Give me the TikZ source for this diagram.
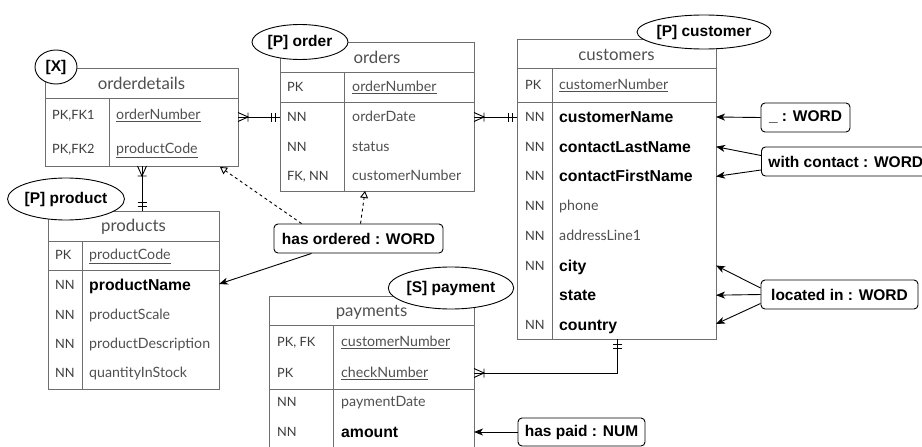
\documentclass[tikz,border=0pt]{standalone}
\usepackage{fontspec}
\setmainfont{Liberation Sans}
\newfontfamily\lato{Lato}
\usetikzlibrary{shapes.geometric,arrows.meta}
\definecolor{tblgray}{HTML}{6E6E6E}
\definecolor{txtgray}{HTML}{505050}
\definecolor{keygray}{HTML}{3C3C3C}
\tikzset{
  tbl/.style={draw=tblgray, line width=0.9pt},
  hdr/.style={inner sep=0, text height=11pt, text depth=0pt, font=\lato\fontsize{16.8}{19}\selectfont, text=txtgray},
  keytxt/.style={anchor=west, inner sep=0, text height=9pt, text depth=0pt, font=\lato\fontsize{12.8}{15}\selectfont, text=keygray},
  fldtxt/.style={anchor=west, inner sep=0, text height=9.5pt, text depth=0pt, font=\lato\fontsize{14.2}{16}\selectfont, text=txtgray},
  boldtxt/.style={anchor=west, inner sep=0, text height=11pt, text depth=0pt, font=\bfseries\fontsize{15.8}{18}\selectfont, text=black},
  tag/.style={ellipse, draw, fill=white, line width=0.9pt, inner sep=0, font=\bfseries\fontsize{15.5}{18}\selectfont},
  lbl/.style={draw, fill=white, rounded corners=4pt, line width=0.9pt, inner sep=0, minimum height=29pt, font=\bfseries\fontsize{15.5}{18}\selectfont},
  conn/.style={draw=black, line width=0.9pt},
  arr/.style={conn, -{Stealth[length=9pt,width=7pt,inset=2.5pt]}},
  dsh/.style={conn, dash pattern=on 3pt off 3pt, -{Triangle[fill=white,length=7pt,width=8pt]}},
  crow/.pic={\draw[conn] (0,-4.5) -- (10,0) -- (0,4.5) (10,-4.5) -- (10,4.5);},
  onebar/.pic={\draw[conn] (5,-4.5) -- (5,4.5) (9,-4.5) -- (9,4.5);}
}
\begin{document}
\begin{tikzpicture}[x=1pt,y=-1pt]
\useasboundingbox (0,0) rectangle (922,447);
\fill[white] (0,0) rectangle (922,447);

% ---------- orderdetails ----------
\draw[tbl] (45,68) rectangle (238,166);
\draw[tbl] (45,98) -- (238,98) (109,98) -- (109,166);
\node[hdr] (od-h) at (141.5,84) {orderdetails};
\node[keytxt] (od-k1) at (52,115) {PK,FK1};
\node[fldtxt] (od-f1) at (116,115) {\underline{orderNumber}};
\node[keytxt] (od-k2) at (52,149) {PK,FK2};
\node[fldtxt] (od-f2) at (116,149) {\underline{productCode}};
\coordinate (od-r) at (238,117);
\coordinate (od-b) at (142,166);
\coordinate (od-d) at (220,167);

% ---------- orders ----------
\draw[tbl] (280,42) rectangle (474,191);
\draw[tbl] (280,72) -- (474,72) (280,102) -- (474,102) (344,72) -- (344,191);
\node[hdr] (or-h) at (377,58) {orders};
\node[keytxt] (or-k1) at (287,87) {PK};
\node[fldtxt] (or-f1) at (352,87) {\underline{orderNumber}};
\node[keytxt] (or-k2) at (287,117) {NN};
\node[fldtxt] (or-f2) at (352,117) {orderDate};
\node[keytxt] (or-k3) at (287,146.5) {NN};
\node[fldtxt] (or-f3) at (352,146.5) {status};
\node[keytxt] (or-k4) at (287,176) {FK, NN};
\node[fldtxt] (or-f4) at (352,176) {customerNumber};
\coordinate (or-l) at (280,117);
\coordinate (or-r) at (474,117);
\coordinate (or-b) at (365,191);

% ---------- customers ----------
\draw[tbl] (517,39) rectangle (716,339);
\draw[tbl] (517,68) -- (716,68) (517,102) -- (716,102) (552,68) -- (552,339);
\node[hdr] (cu-h) at (616.5,55) {customers};
\node[keytxt] (cu-k1) at (525,85) {PK};
\node[fldtxt] (cu-f1) at (559,85) {\underline{customerNumber}};
\node[keytxt] (cu-k2) at (525,117) {NN};
\node[boldtxt] (cu-f2) at (559,117) {customerName};
\node[keytxt] (cu-k3) at (525,146.7) {NN};
\node[boldtxt] (cu-f3) at (559,146.7) {contactLastName};
\node[keytxt] (cu-k4) at (525,176.4) {NN};
\node[boldtxt] (cu-f4) at (559,176.4) {contactFirstName};
\node[keytxt] (cu-k5) at (525,206) {NN};
\node[fldtxt] (cu-f5) at (559,206) {phone};
\node[keytxt] (cu-k6) at (525,235.8) {NN};
\node[fldtxt] (cu-f6) at (559,235.8) {addressLine1};
\node[keytxt] (cu-k7) at (525,265.5) {NN};
\node[boldtxt] (cu-f7) at (559,265.5) {city};
\node[boldtxt] (cu-f8) at (559,295.2) {state};
\node[keytxt] (cu-k9) at (525,325) {NN};
\node[boldtxt] (cu-f9) at (559,325) {country};
\coordinate (cu-l) at (517,117);
\coordinate (cu-b) at (617,339);
\coordinate (cu-r2) at (716,117);
\coordinate (cu-r3) at (716,146.7);
\coordinate (cu-r4) at (716,176.4);
\coordinate (cu-r7) at (716,265.5);
\coordinate (cu-r8) at (716,295.2);
\coordinate (cu-r9) at (716,324);

% ---------- products ----------
\draw[tbl] (48,211) rectangle (219,389);
\draw[tbl] (48,241) -- (219,241) (48,270) -- (219,270) (82,241) -- (82,389);
\node[hdr] (pr-h) at (133.5,226) {products};
\node[keytxt] (pr-k1) at (55,255) {PK};
\node[fldtxt] (pr-f1) at (89,255) {\underline{productCode}};
\node[keytxt] (pr-k2) at (55,285) {NN};
\node[boldtxt] (pr-f2) at (89,285) {productName};
\node[keytxt] (pr-k3) at (55,314.5) {NN};
\node[fldtxt] (pr-f3) at (89,314.5) {productScale};
\node[keytxt] (pr-k4) at (55,344) {NN};
\node[fldtxt] (pr-f4) at (89,344) {productDescription};
\node[keytxt] (pr-k5) at (55,373) {NN};
\node[fldtxt] (pr-f5) at (89,373) {quantityInStock};
\coordinate (pr-t) at (142,211);
\coordinate (pr-r2) at (219,284);

% ---------- payments ----------
\draw[tbl] (269,296) rectangle (474,470);
\draw[tbl] (269,325) -- (474,325) (269,389) -- (474,389) (333,325) -- (333,470);
\node[hdr] (pa-h) at (371.5,311) {payments};
\node[keytxt] (pa-k1) at (277,342) {PK, FK};
\node[fldtxt] (pa-f1) at (341,342) {\underline{customerNumber}};
\node[keytxt] (pa-k2) at (277,373) {PK};
\node[fldtxt] (pa-f2) at (341,373) {\underline{checkNumber}};
\node[keytxt] (pa-k3) at (277,402) {NN};
\node[fldtxt] (pa-f3) at (341,402) {paymentDate};
\node[keytxt] (pa-k4) at (277,432) {NN};
\node[boldtxt] (pa-f4) at (341,432) {amount};
\coordinate (pa-r) at (474,373);
\coordinate (pa-r4) at (474,432);

% ---------- relationships ----------
\draw[conn] (od-r) -- (or-l);
\pic at (od-r) {crow};
\pic[rotate=180] at (or-l) {onebar};
\draw[conn] (or-r) -- (cu-l);
\pic at (or-r) {crow};
\pic[rotate=180] at (cu-l) {onebar};
\draw[conn] (od-b) -- (pr-t);
\pic[rotate=-90] at (od-b) {crow};
\pic[rotate=90] at (pr-t) {onebar};
\draw[conn] (cu-b) |- (pa-r);
\pic[rotate=-90] at (cu-b) {onebar};
\pic at (pa-r) {crow};

% ---------- tags ----------
\node[tag, minimum width=42pt, minimum height=34pt] (t-x) at (56,67) {[X]};
\node[tag, minimum width=96pt, minimum height=35pt] (t-order) at (300,42) {[P] order};
\node[tag, minimum width=120pt, minimum height=34pt] (t-cust) at (704,32) {[P] customer};
\node[tag, minimum width=112pt, minimum height=42pt] (t-prod) at (66,199) {[P] product};
\node[tag, minimum width=116pt, minimum height=42pt] (t-pay) at (451,288) {[S] payment};

% ---------- labels ----------
\node[lbl, minimum width=89pt] (l-name) at (805.5,117.5) {\_ : WORD};
\node[lbl, anchor=west, inner xsep=7pt] (l-contact) at (761,161.5) {with contact : WORD};
\node[lbl, minimum width=157pt] (l-loc) at (839.5,294.5) {located in : WORD};
\node[lbl, minimum width=169pt] (l-ord) at (358.5,238.5) {has ordered : WORD};
\node[lbl, minimum width=127pt, minimum height=28pt] (l-paid) at (581.5,432) {has paid : NUM};

\draw[arr] (l-name.west) -- (cu-r2);
\draw[arr] ([yshift=6pt]l-contact.west) -- (cu-r3);
\draw[arr] ([yshift=-8.5pt]l-contact.west) -- (cu-r4);
\draw[arr] ([yshift=6.5pt]l-loc.west) -- (cu-r7);
\draw[arr] (l-loc.west) -- (cu-r8);
\draw[arr] ([yshift=-9pt]l-loc.west) -- (cu-r9);
\draw[arr] ([xshift=38pt]l-ord.south west) -- (pr-r2);
\draw[dsh] ([xshift=28pt]l-ord.north west) -- (od-d);
\draw[dsh] ([xshift=87pt]l-ord.north west) -- (or-b);
\draw[arr] (l-paid.west) -- (pa-r4);
\end{tikzpicture}
\end{document}
